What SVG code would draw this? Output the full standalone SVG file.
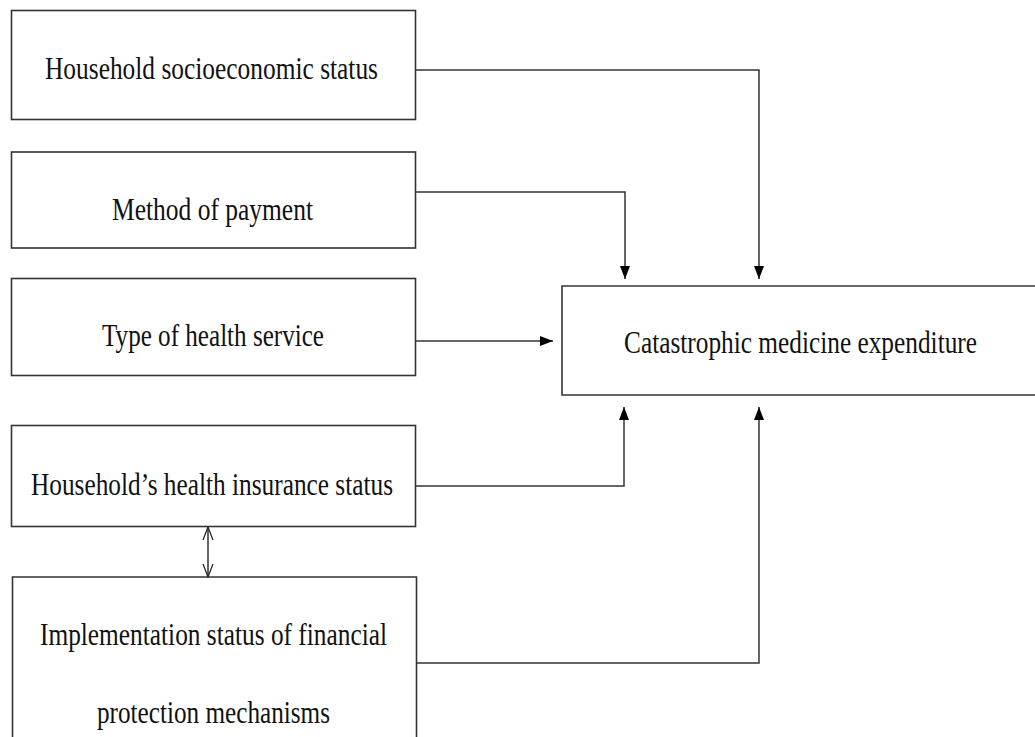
<svg xmlns="http://www.w3.org/2000/svg" width="1035" height="737" viewBox="0 0 1035 737">
  <defs>
    <marker id="arrow" markerUnits="userSpaceOnUse" markerWidth="14" markerHeight="11" viewBox="0 0 14 11" refX="13" refY="5.5" orient="auto">
      <path d="M0,0.5 L13,5.5 L0,10.5 z" fill="#000"/>
    </marker>
    <marker id="open" markerUnits="userSpaceOnUse" markerWidth="15" markerHeight="12" viewBox="0 0 15 12" refX="14" refY="6" orient="auto-start-reverse">
      <path d="M1,1 L14,6 L1,11" fill="none" stroke="#222" stroke-width="1.2"/>
    </marker>
    <style>
      .box { fill: #fff; stroke: #333; stroke-width: 1.6; }
      .lbl { font-family: "Liberation Serif", "Times New Roman", serif; font-size: 31px; fill: #111; text-anchor: middle; }
      .conn { fill: none; stroke: #333; stroke-width: 1.5; }
    </style>
  </defs>
  <rect width="1035" height="737" fill="#fff"/>

  <g id="node-socioeconomic">
    <rect class="box" x="11.5" y="10.5" width="404" height="109"/>
    <text class="lbl" x="211.5" y="79" textLength="333" lengthAdjust="spacingAndGlyphs">Household socioeconomic status</text>
  </g>
  <g id="node-payment">
    <rect class="box" x="11.5" y="152" width="404" height="96"/>
    <text class="lbl" x="212.5" y="220" textLength="201" lengthAdjust="spacingAndGlyphs">Method of payment</text>
  </g>
  <g id="node-service">
    <rect class="box" x="11.5" y="278.5" width="404" height="97"/>
    <text class="lbl" x="213" y="346" textLength="222" lengthAdjust="spacingAndGlyphs">Type of health service</text>
  </g>
  <g id="node-insurance">
    <rect class="box" x="11.5" y="425.5" width="404" height="101"/>
    <text class="lbl" x="212" y="495" textLength="362" lengthAdjust="spacingAndGlyphs">Household’s health insurance status</text>
  </g>
  <g id="node-implementation">
    <path class="box" d="M12.5,737 V577 H416.5 V737"/>
    <text class="lbl" x="213.5" y="645" textLength="347" lengthAdjust="spacingAndGlyphs">Implementation status of financial</text>
    <text class="lbl" x="213.5" y="723" textLength="233" lengthAdjust="spacingAndGlyphs">protection mechanisms</text>
  </g>
  <g id="node-catastrophic">
    <path class="box" d="M1035,286 H562 V395 H1035"/>
    <text class="lbl" x="800.5" y="353" textLength="353" lengthAdjust="spacingAndGlyphs">Catastrophic medicine expenditure</text>
  </g>

  <g id="connectors">
    <path class="conn" d="M415.5,70 H759 V279" marker-end="url(#arrow)"/>
    <path class="conn" d="M415.5,192 H625 V279" marker-end="url(#arrow)"/>
    <path class="conn" d="M415.5,341 H553" marker-end="url(#arrow)"/>
    <path class="conn" d="M415.5,486 H624 V407" marker-end="url(#arrow)"/>
    <path class="conn" d="M416.5,663 H759 V407" marker-end="url(#arrow)"/>
    <path class="conn" d="M208,527 V577" stroke-width="1.2" marker-start="url(#open)" marker-end="url(#open)"/>
  </g>
</svg>
